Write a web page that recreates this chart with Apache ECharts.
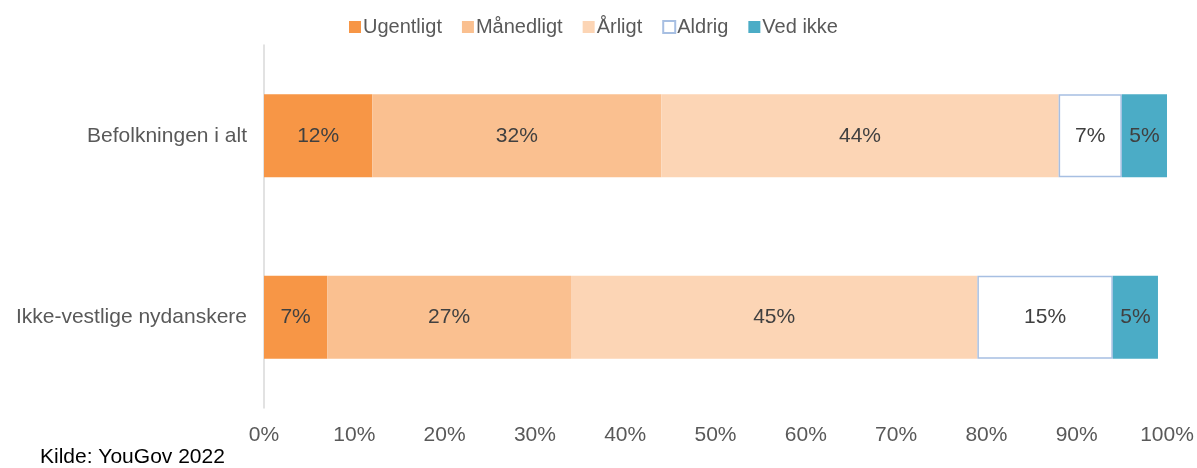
<!DOCTYPE html>
<html><head><meta charset="utf-8">
<script src="https://cdn.jsdelivr.net/npm/echarts@6/dist/echarts.min.js"></script>
<style>html,body{margin:0;padding:0;background:#fff}#c{width:1197px;height:468px}</style>
</head><body><div id="c"></div>
<script>
const categories = ['Befolkningen i alt', 'Ikke-vestlige nydanskere'];
const seriesNames = ['Ugentligt', 'Månedligt', 'Årligt', 'Aldrig', 'Ved ikke'];
const ugentligt = [12, 7];
const maanedligt = [32, 27];
const aarligt = [44, 45];
const aldrig = [7, 15];
const vedIkke = [5, 5];
const xTicks = [0, 10, 20, 30, 40, 50, 60, 70, 80, 90, 100];
const source = 'Kilde: YouGov 2022';

const values = [ugentligt, maanedligt, aarligt, aldrig, vedIkke];
const styles = [
  {color: '#F79646'},
  {color: '#FAC090'},
  {color: '#FCD5B5'},
  {color: '#FFFFFF', borderColor: '#A7BFE2', borderWidth: 1.5},
  {color: '#4BACC6'}
];
const font = 'Liberation Sans, Arial, sans-serif';
const fs = 21;
const chart = echarts.init(document.getElementById('c'), null, {renderer: 'canvas'});
chart.setOption({
  animation: false,
  textStyle: {fontFamily: font},
  legend: {
    top: 17, left: 349, padding: 0, itemWidth: 12, itemHeight: 12, itemGap: 20,
    icon: 'rect',
    textStyle: {fontSize: 20, color: '#595959', fontFamily: font, padding: [0, 0, 0, -3]},
    data: seriesNames
  },
  grid: {left: 264, right: 30, top: 45, bottom: 60, containLabel: false},
  xAxis: {
    type: 'value', min: 0, max: 100, interval: 10,
    axisLabel: {formatter: v => v + '%', fontSize: fs, color: '#595959', margin: 17, fontFamily: font},
    splitLine: {show: false}, axisLine: {show: false}, axisTick: {show: false}
  },
  yAxis: {
    type: 'category', inverse: true, data: categories,
    axisLine: {show: true, lineStyle: {color: '#D9D9D9', width: 1.5}},
    axisTick: {show: false},
    axisLabel: {fontSize: fs, color: '#595959', margin: 17, fontFamily: font}
  },
  graphic: [{type: 'text', left: 40, top: 447, style: {text: source, fontSize: fs, fill: '#000', fontFamily: font}}],
  series: seriesNames.map((n, i) => ({
    name: n, type: 'bar', stack: 'total', barWidth: 83,
    data: values[i],
    itemStyle: styles[i],
    label: {show: true, position: 'inside', formatter: p => p.value + '%', fontSize: fs, color: '#404040', fontFamily: font},
    emphasis: {disabled: true}
  }))
});
</script></body></html>
